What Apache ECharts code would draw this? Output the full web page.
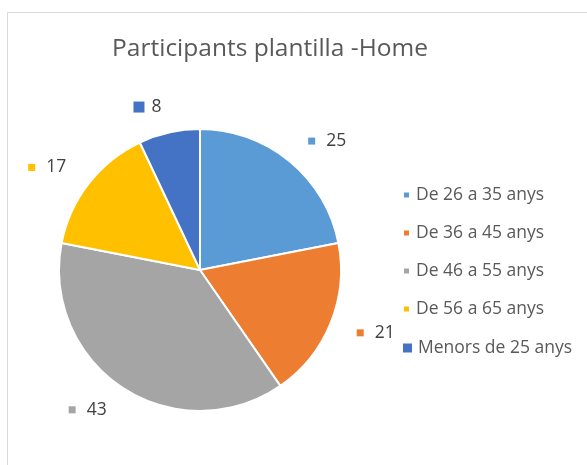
<!DOCTYPE html>
<html>
<head>
<meta charset="utf-8">
<script src="https://cdn.jsdelivr.net/npm/echarts@6/dist/echarts.min.js"></script>
<style>html,body{margin:0;padding:0;background:#fff}#c{width:587px;height:465px}</style>
</head>
<body>
<div id="c"></div>
<script>
const titleText = 'Participants plantilla -Home';
const categories = ['De 26 a 35 anys', 'De 36 a 45 anys', 'De 46 a 55 anys', 'De 56 a 65 anys', 'Menors de 25 anys'];
const values = [25, 21, 43, 17, 8];
const colors = ['#5B9BD5', '#ED7D31', '#A5A5A5', '#FFC000', '#4472C4'];
const markerSizes = [7, 7, 7, 7, 11];

const font = '"Open Sans", "Noto Sans", sans-serif';
const chart = echarts.init(document.getElementById('c'), null, {renderer: 'canvas'});

const data = categories.map((name, i) => ({
  name: name,
  value: values[i],
  itemStyle: {color: colors[i]},
  label: {
    rich: {
      sq: {backgroundColor: colors[i], width: markerSizes[i], height: markerSizes[i]},
      v: {fontSize: 17.5, lineHeight: 20, color: '#404040', fontFamily: font,
          padding: [0, 0, 0, markerSizes[i] > 8 ? 7 : 11]}
    }
  }
}));

chart.setOption({
  animation: false,
  title: {
    text: titleText,
    left: 265, top: 32, textAlign: 'center',
    textStyle: {fontSize: 24.5, fontWeight: 'normal', color: '#595959', fontFamily: font}
  },
  graphic: [{
    type: 'rect', shape: {x: 7.5, y: 12.5, width: 600, height: 500},
    style: {fill: 'none', stroke: '#d9d9d9', lineWidth: 1}, silent: true
  }],
  legend: [{
    orient: 'vertical', left: 402, top: 185, itemGap: 18, padding: 0,
    icon: 'rect', itemWidth: 7, itemHeight: 7,
    data: categories.slice(0, 4),
    textStyle: {fontSize: 17.5, lineHeight: 20, color: '#595959', fontFamily: font, padding: [0, 0, 0, 1]}
  }, {
    orient: 'vertical', left: 401, top: 338, padding: 0,
    icon: 'rect', itemWidth: 11, itemHeight: 11,
    data: categories.slice(4),
    textStyle: {fontSize: 17.5, lineHeight: 20, color: '#595959', fontFamily: font}
  }],
  series: [{
    type: 'pie',
    center: [200, 270],
    radius: 141,
    startAngle: 90,
    clockwise: true,
    itemStyle: {borderColor: '#fff', borderWidth: 2},
    label: {
      show: true, position: 'outside', distanceToLabelLine: 2,
      formatter: '{sq|}{v|{c}}'
    },
    labelLine: {show: false, length: 26, length2: 0},
    data: data
  }]
});
</script>
</body>
</html>
